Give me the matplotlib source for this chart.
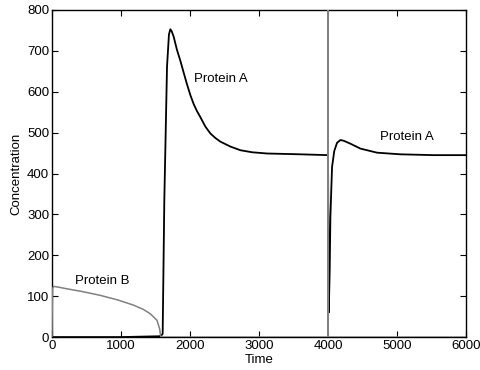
import matplotlib
matplotlib.use('Agg')
import matplotlib.pyplot as plt

plt.rcParams['font.family'] = ['Liberation Sans', 'DejaVu Sans']

# Protein A (black)
t_a = [0, 1000, 1560, 1590, 1604, 1628, 1667, 1695, 1715, 1735, 1763, 1812, 1860,
       1908, 1957, 2005, 2053, 2100, 2150, 2222, 2295, 2367, 2440, 2585, 2730,
       2900, 3116, 3600, 3995, 4000, 4010, 4024, 4034, 4058, 4090, 4130, 4179,
       4230, 4324, 4469, 4710, 5048, 5531, 6000]
a_vals = [0, 0, 2, 5, 8, 335, 661, 740, 753, 748, 735, 702, 676,
          647, 618, 592, 570, 553, 538, 515, 498, 487, 478, 466, 457,
          452, 449, 447, 445, 445, 60, 163, 294, 416, 455, 475, 482,
          480, 473, 461, 451, 447, 445, 445]

# Protein B (grey)
t_b = [0, 8, 24, 100, 217, 450, 700, 950, 1184, 1320, 1425, 1522, 1560, 1570,
       1575, 1594, 1620, 3999, 4000, 4001, 6000]
b_vals = [0, 118, 124, 122, 118, 111, 102, 91, 78, 68, 57, 41, 20, 8,
          2, 0, 0, 0, 1000, 0, 0]

fig = plt.figure(figsize=(4.81, 3.70), dpi=100, facecolor='white')
ax = fig.add_axes([0.108, 0.089, 0.861, 0.884])

ax.plot(t_a, a_vals, color='black', linewidth=1.3, zorder=2)
ax.plot(t_b, b_vals, color='#808080', linewidth=1.1, zorder=3)

ax.set_xlim(0, 6000)
ax.set_ylim(0, 800)
ax.set_xticks(range(0, 6001, 1000))
ax.set_yticks(range(0, 801, 100))
ax.tick_params(direction='in', top=True, right=True, labelsize=9.5,
               length=4, width=0.8, pad=2)
for s in ax.spines.values():
    s.set_linewidth(1.0)

ax.set_xlabel('Time', fontsize=9.5, labelpad=1.5)
ax.set_ylabel('Concentration', fontsize=9.5, labelpad=3)

ax.text(2449, 631, 'Protein A', fontsize=9.5, ha='center', va='center')
ax.text(5145, 489, 'Protein A', fontsize=9.5, ha='center', va='center')
ax.text(735, 137, 'Protein B', fontsize=9.5, ha='center', va='center')

fig.savefig('out.png', dpi=100, facecolor='white')
